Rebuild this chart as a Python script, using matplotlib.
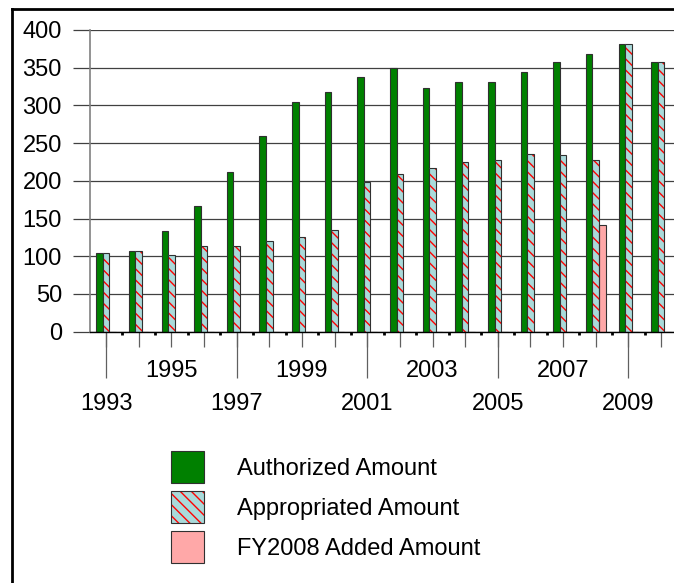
import numpy as np
import matplotlib
matplotlib.use("Agg")
from matplotlib import pyplot as plt
from matplotlib.patches import Patch
from matplotlib.lines import Line2D

plt.rcParams['font.family'] = ['Liberation Sans', 'DejaVu Sans']
plt.rcParams['hatch.linewidth'] = 1.0

years = list(range(1993, 2011))
authorized = [104, 107, 133, 167, 212, 260, 305, 318, 338, 350,
              323, 331, 331, 344, 357, 368, 381, 357]
appropriated = [104, 107, 101, 114, 114, 120, 125, 135, 198, 209,
                217, 225, 228, 236, 234, 228, 381, 357]
added_fy2008 = [0, 0, 0, 0, 0, 0, 0, 0, 0, 0,
                0, 0, 0, 0, 0, 141, 0, 0]
labels = ['Authorized Amount', 'Appropriated Amount', 'FY2008 Added Amount']

green = '#008000'
cyan = '#A9DADA'
pink = '#FFA8A8'
red = '#FF0000'
edge = '#303030'
fs = 17

W, H = 674, 583
fig = plt.figure(figsize=(W / 100, H / 100), dpi=100)
ax = fig.add_axes([90 / W, 1 - 331.6 / H, (W - 90) / W, (331.6 - 30) / H])

x = np.arange(len(years))
bw = 0.2
ax.bar(x - bw, authorized, bw, color=green, edgecolor=edge, linewidth=0.8, zorder=3)
# hatched bars: hatch colour follows edgecolor, so draw outline separately
ax.bar(x, appropriated, bw, color=cyan, edgecolor=red, linewidth=0,
       hatch='\\\\\\', zorder=3)
ax.bar(x, appropriated, bw, fill=False, edgecolor=edge, linewidth=0.8, zorder=4)
ax.bar(x + bw, added_fy2008, bw, color=pink, edgecolor=edge, linewidth=0.8, zorder=3)

ax.set_xlim((90 - 106) / 32.65, (W - 106) / 32.65)
ax.set_ylim(0, 400)
ax.set_yticks(range(0, 401, 50))
ax.yaxis.grid(True, color='#404040', linewidth=0.9, zorder=1)
ax.set_axisbelow(True)
ax.tick_params(axis='y', direction='out', length=12.2, width=0.9,
               color='#404040', pad=8, labelsize=fs)

for s in ['top', 'right']:
    ax.spines[s].set_visible(False)
ax.spines['left'].set_color('#808080')
ax.spines['left'].set_linewidth(1.2)
ax.spines['bottom'].set_color('black')
ax.spines['bottom'].set_linewidth(1.0)
ax.spines['bottom'].set_zorder(5)

# staggered category labels, every second year
ticklabels = []
for i, y in enumerate(years):
    if i % 4 == 0:
        ticklabels.append('\n' + str(y))
    elif i % 4 == 2:
        ticklabels.append(str(y))
    else:
        ticklabels.append('')
ax.set_xticks(x)
ax.set_xticklabels(ticklabels)
for t in ax.get_xticklabels():
    t.set_linespacing(1.63)
ax.tick_params(axis='x', which='major', direction='out', length=10.8, width=0.9,
               color='#606060', pad=9.5, labelsize=fs)
ax.xaxis.remove_overlapping_locs = False
ax.set_xticks(x[::4], minor=True)
ax.tick_params(axis='x', which='minor', direction='out', length=33, width=0.9,
               color='#606060')

# small marks at category boundaries
sec = ax.secondary_xaxis('bottom')
sec.set_xticks(x[:-1] + 0.5)
sec.set_xticklabels([])
sec.tick_params(direction='out', length=2.2, width=2, color='black')
sec.spines['bottom'].set_visible(False)

handles = [Patch(facecolor=green, edgecolor=edge, linewidth=0.8),
           (Patch(facecolor=cyan, edgecolor=red, linewidth=0, hatch='\\\\\\'),
            Patch(fill=False, edgecolor=edge, linewidth=0.8)),
           Patch(facecolor=pink, edgecolor=edge, linewidth=0.8)]
fig.legend(handles, labels, loc='upper left',
           bbox_to_anchor=(171 / W, 1 - 451 / H), frameon=False,
           fontsize=fs, handlelength=1.4, handleheight=1.708,
           handletextpad=1.4, labelspacing=0.34, borderpad=0,
           borderaxespad=0)

# chart frame (left and top edges visible in the crop)
fig.add_artist(Line2D([11.5 / W, 11.5 / W], [0, 1 - 8.5 / H], color='black',
                      linewidth=2, transform=fig.transFigure))
fig.add_artist(Line2D([11.5 / W, 1], [1 - 8.5 / H, 1 - 8.5 / H], color='black',
                      linewidth=2, transform=fig.transFigure))

fig.savefig('out.png', dpi=100)
